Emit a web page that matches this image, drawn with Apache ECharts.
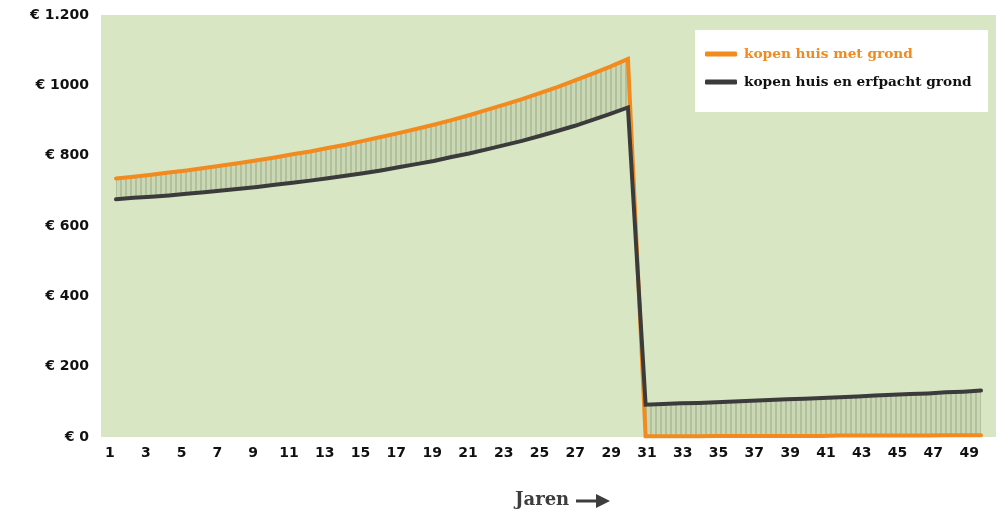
<!DOCTYPE html>
<html>
<head>
<meta charset="utf-8">
<script src="https://cdn.jsdelivr.net/npm/echarts@6/dist/echarts.min.js"></script>
<style>
  html, body { margin: 0; padding: 0; background: #ffffff; }
  #chart { width: 996px; height: 512px; }
</style>
</head>
<body>
<div id="chart"></div>
<script>
// ---- data ----
const years = [1,2,3,4,5,6,7,8,9,10,11,12,13,14,15,16,17,18,19,20,21,22,23,24,25,26,27,28,29,30,
               31,32,33,34,35,36,37,38,39,40,41,42,43,44,45,46,47,48,49,50];
const kopenMetGrond = [735,740,746,752,758,765,772,779,787,795,804,812,822,831,842,853,864,876,888,901,
                       915,930,945,961,978,995,1014,1033,1053,1075,
                       2,2,2,2,3,3,3,3,3,3,3,4,4,4,4,4,4,5,5,5];
const kopenErfpacht = [676,680,683,687,692,696,701,706,711,717,723,729,736,743,750,758,767,776,785,796,
                       806,818,830,842,856,870,885,902,919,937,
                       92,94,96,97,99,101,103,105,107,109,111,113,115,118,120,122,124,127,129,132];
const yTickValues = [0, 200, 400, 600, 800, 1000, 1200];
const yTickLabels = ['€ 0', '€ 200', '€ 400', '€ 600', '€ 800', '€ 1000', '€ 1.200'];
const seriesNames = ['kopen huis met grond', 'kopen huis en erfpacht grond'];
const xTitle = 'Jaren';

// ---- styling ----
const ORANGE = '#f28a1e';
const DARK = '#3b3b3b';
const BG = '#d8e6c3';

// vertical hatch pattern
const pat = document.createElement('canvas');
pat.width = 5; pat.height = 4;
const pctx = pat.getContext('2d');
pctx.fillStyle = '#cad8b5'; pctx.fillRect(0, 0, 5, 4);
pctx.fillStyle = '#b2c09c'; pctx.fillRect(0, 0, 2, 4);
const hatch = { image: pat, repeat: 'repeat' };

// build pairs; split into the two phases (upper curve filled with hatch, lower curve masks with background)
const pairs = (arr) => years.map((y, i) => [y, arr[i]]);
const split = 30; // last year with the high values
const hiTop = [], hiBot = [], loTop = [], loBot = [];
years.forEach((y, i) => {
  const o = kopenMetGrond[i], d = kopenErfpacht[i];
  if (y <= split) { hiTop.push([y, Math.max(o, d)]); hiBot.push([y, Math.min(o, d)]); }
  else { loTop.push([y, Math.max(o, d)]); loBot.push([y, Math.min(o, d)]); }
});

const hidden = { type: 'line', symbol: 'none', silent: true, lineStyle: { opacity: 0 } };

const chart = echarts.init(document.getElementById('chart'), null, { renderer: 'canvas' });
chart.setOption({
  animation: false,
  backgroundColor: '#ffffff',
  grid: {
    left: 101, right: 0, top: 15, bottom: 75,
    show: true, backgroundColor: BG, borderWidth: 0
  },
  xAxis: [
    {
      type: 'value', min: 0.15, max: 50.85, position: 'bottom',
      axisLine: { show: false }, axisTick: { show: false },
      axisLabel: { show: false }, splitLine: { show: false }
    },
    {
      type: 'category', data: years, boundaryGap: true, position: 'bottom',
      axisLine: { show: false }, axisTick: { show: false }, splitLine: { show: false },
      axisLabel: {
        interval: 1, margin: 9,
        fontFamily: 'DejaVu Sans', fontWeight: 'bold', fontSize: 14, color: '#111111'
      }
    }
  ],
  yAxis: {
    type: 'value', min: 0, max: 1200, interval: 200,
    axisLine: { show: false }, axisTick: { show: false }, splitLine: { show: false },
    axisLabel: {
      margin: 12,
      fontFamily: 'DejaVu Sans', fontWeight: 'bold', fontSize: 14, color: '#111111',
      formatter: (v) => { const k = yTickValues.indexOf(v); return k >= 0 ? yTickLabels[k] : ''; }
    }
  },
  legend: {
    data: [
      { name: seriesNames[0], textStyle: { color: ORANGE } },
      { name: seriesNames[1], textStyle: { color: '#111111' } }
    ],
    orient: 'vertical', left: 705, top: 47, padding: 0, itemGap: 14,
    icon: 'roundRect', itemWidth: 32, itemHeight: 5,
    textStyle: { fontFamily: 'DejaVu Serif', fontWeight: 'bold', fontSize: 13.7, padding: [0, 0, 0, 2] },
    z: 10
  },
  graphic: [
    { type: 'rect', left: 695, top: 30, shape: { width: 293, height: 82 }, style: { fill: '#ffffff' }, z: 5 },
    { type: 'text', left: 515, top: 491, style: { text: xTitle, font: 'bold 18px "DejaVu Serif"', fill: '#3d3d3d' }, z: 5 },
    { type: 'line', shape: { x1: 576, y1: 501, x2: 600, y2: 501 }, style: { stroke: '#3d3d3d', lineWidth: 3 }, z: 5 },
    { type: 'polygon', shape: { points: [[596, 494], [610, 501], [596, 508]] }, style: { fill: '#3d3d3d' }, z: 5 }
  ],
  series: [
    Object.assign({}, hidden, { name: 'hiTop', data: hiTop, areaStyle: { color: hatch, opacity: 1 }, z: 1 }),
    Object.assign({}, hidden, { name: 'hiBot', data: hiBot, areaStyle: { color: BG, opacity: 1 }, z: 2 }),
    Object.assign({}, hidden, { name: 'loTop', data: loTop, areaStyle: { color: hatch, opacity: 1 }, z: 1 }),
    Object.assign({}, hidden, { name: 'loBot', data: loBot, areaStyle: { color: BG, opacity: 1 }, z: 2 }),
    {
      name: seriesNames[0], type: 'line', data: pairs(kopenMetGrond), symbol: 'none', color: ORANGE,
      lineStyle: { color: ORANGE, width: 4, cap: 'round', join: 'miter' }, z: 3
    },
    {
      name: seriesNames[1], type: 'line', data: pairs(kopenErfpacht), symbol: 'none', color: DARK,
      lineStyle: { color: DARK, width: 4, cap: 'round', join: 'miter' }, z: 4
    }
  ]
});
</script>
</body>
</html>
